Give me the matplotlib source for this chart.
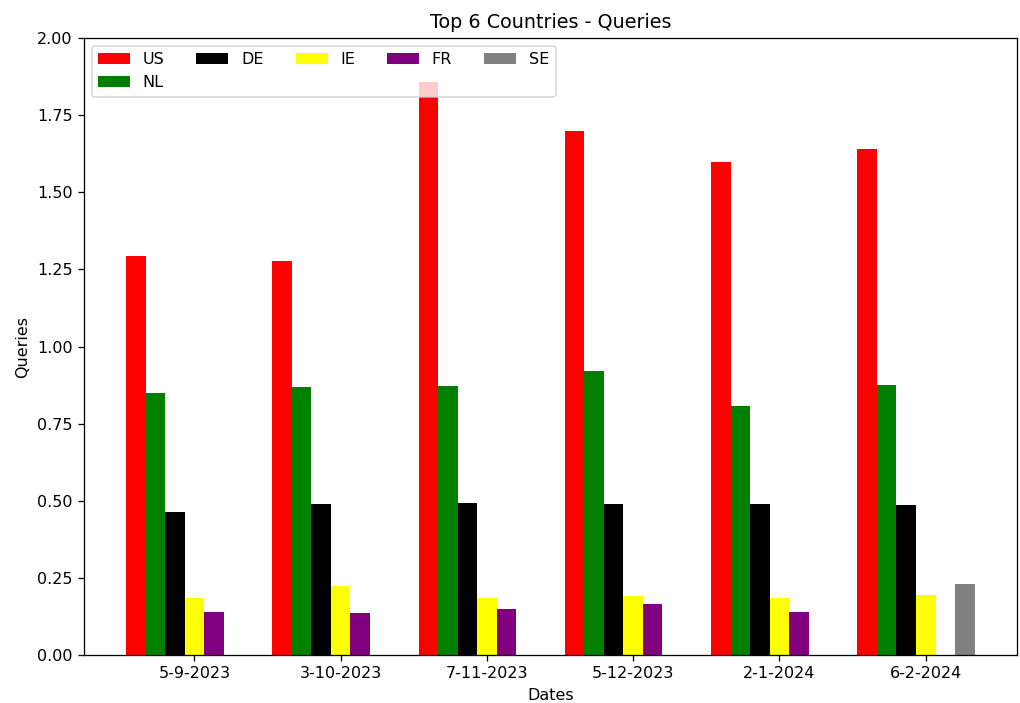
import matplotlib

matplotlib.use("Agg")
import matplotlib.pyplot as plt
import numpy as np

dates = ["5-9-2023", "3-10-2023", "7-11-2023", "5-12-2023", "2-1-2024", "6-2-2024"]
countries = ["US", "NL", "DE", "IE", "FR", "SE"]
colors = ["red", "green", "black", "yellow", "purple", "gray"]

us = [1.293, 1.277, 1.857, 1.699, 1.598, 1.641]
nl = [0.851, 0.868, 0.871, 0.922, 0.806, 0.876]
de = [0.463, 0.489, 0.493, 0.489, 0.489, 0.486]
ie = [0.184, 0.223, 0.184, 0.191, 0.186, 0.194]
fr = [0.139, 0.136, 0.151, 0.165, 0.139, 0.0]
se = [0.0, 0.0, 0.0, 0.0, 0.0, 0.230]

series = [us, nl, de, ie, fr, se]

x = np.arange(len(dates))
width = 0.8 / len(countries)

# rendered at a higher dpi so text comes out a bit larger
dpi = 115
fig, ax = plt.subplots(figsize=(1020 / dpi, 703 / dpi), dpi=dpi)
for i, (name, vals, col) in enumerate(zip(countries, series, colors)):
    ax.bar(x + i * width, vals, width, label=name, color=col)

ax.set_xticks(x + width * 3)
ax.set_xticklabels(dates)
ax.set_ylim(0, 2.0)
ax.set_xlabel("Dates")
ax.set_ylabel("Queries")
ax.set_title("Top 6 Countries - Queries")
ax.legend(loc="upper left", ncol=5)

fig.subplots_adjust(left=0.082, right=0.997, top=0.946, bottom=0.068)
fig.savefig("out.png", dpi=dpi)
plt.close(fig)
